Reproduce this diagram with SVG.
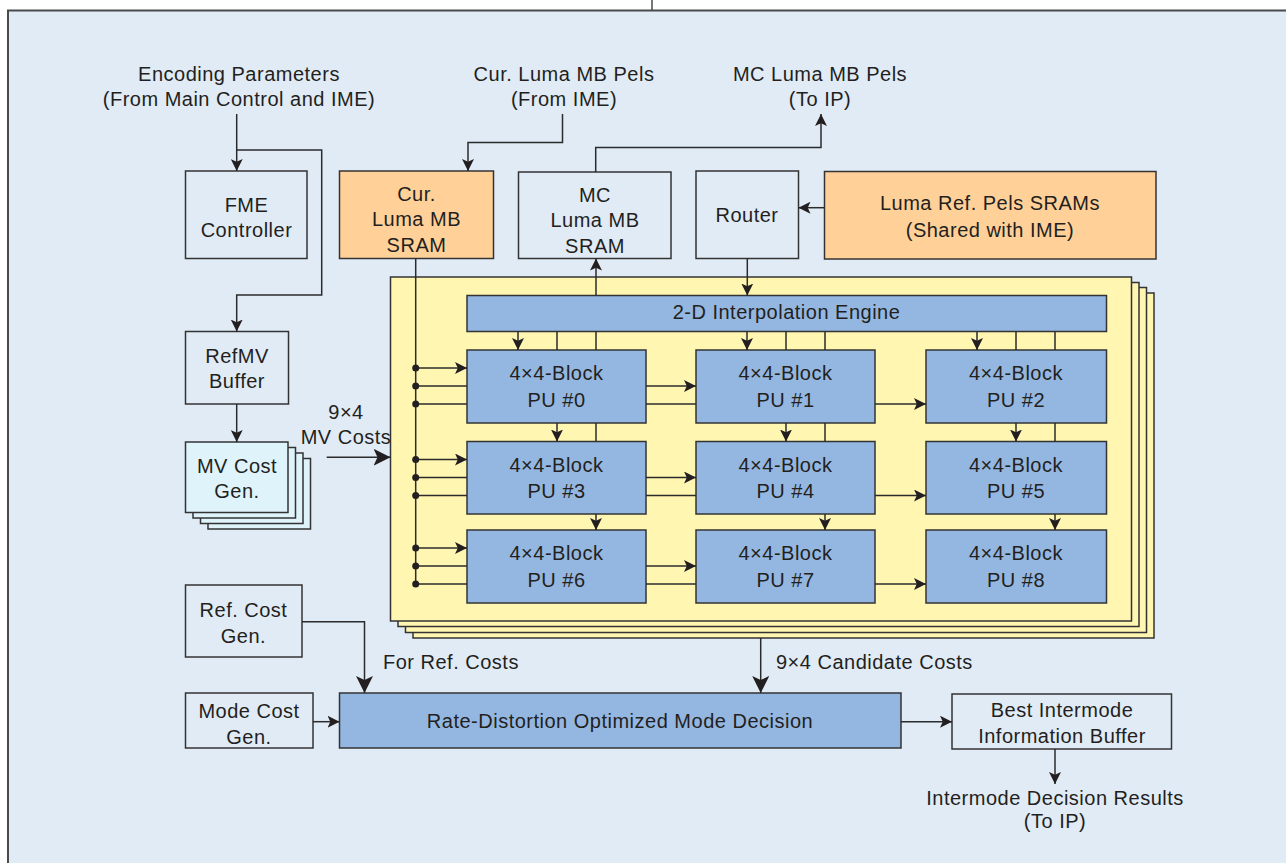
<svg xmlns="http://www.w3.org/2000/svg" width="1286" height="863" viewBox="0 0 1286 863">
<style>
text{font-family:"Liberation Sans",Arial,sans-serif;font-size:20px;letter-spacing:0.5px;fill:#231f20}
.m{text-anchor:middle}
.box{fill:#e1ebf6;stroke:#333;stroke-width:1.5}
.org{fill:#ffd199;stroke:#333;stroke-width:1.5}
.blu{fill:#94b7e1;stroke:#333;stroke-width:1.5}
.yel{fill:#fff6b2;stroke:#333;stroke-width:1.5}
.cyn{fill:#dff3fb;stroke:#333;stroke-width:1.5}
.ln{fill:none;stroke:#2b2b2b;stroke-width:1.5}
.a{marker-end:url(#sa)}
.b{marker-end:url(#ba)}
.dot{fill:#231f20}
</style>
<defs>
<marker id="sa" markerUnits="userSpaceOnUse" markerWidth="13" markerHeight="12" refX="12" refY="6" orient="auto" viewBox="0 0 13 12">
<path d="M0,0 L12,6 L0,12 L2.8,6 Z" fill="#231f20"/>
</marker>
<marker id="ba" markerUnits="userSpaceOnUse" markerWidth="18" markerHeight="17" refX="17" refY="8.5" orient="auto" viewBox="0 0 18 17">
<path d="M0,0 L17,8.5 L0,17 L4,8.5 Z" fill="#231f20"/>
</marker>
</defs>
<rect x="0" y="0" width="1286" height="863" fill="#ffffff"/>
<rect x="8" y="10.5" width="1290" height="870" fill="#e1ebf6" stroke="#4a4a4a" stroke-width="2"/>
<line x1="652" y1="0" x2="652" y2="10" stroke="#4a4a4a" stroke-width="1.5"/>

<g id="labels">
<text class="m" x="239" y="81">Encoding Parameters</text>
<text class="m" x="239" y="106">(From Main Control and IME)</text>
<text class="m" x="564" y="81">Cur. Luma MB Pels</text>
<text class="m" x="564" y="106">(From IME)</text>
<text class="m" x="820" y="81">MC Luma MB Pels</text>
<text class="m" x="820" y="106">(To IP)</text>
<text class="m" x="346" y="419">9×4</text>
<text class="m" x="346" y="444">MV Costs</text>
<text x="383" y="669">For Ref. Costs</text>
<text x="776" y="669">9×4 Candidate Costs</text>
<text class="m" x="1055" y="805">Intermode Decision Results</text>
<text class="m" x="1055" y="828">(To IP)</text>
</g>

<g id="fme-controller">
<rect class="box" x="185.5" y="171" width="121.5" height="87.5"/>
<text class="m" x="246.5" y="211.5">FME</text>
<text class="m" x="246.5" y="236.7">Controller</text>
</g>
<g id="cur-luma-sram">
<rect class="org" x="339.5" y="171" width="154" height="87.5"/>
<text class="m" x="416.5" y="200.7">Cur.</text>
<text class="m" x="416.5" y="226">Luma MB</text>
<text class="m" x="416.5" y="251.5">SRAM</text>
</g>
<g id="mc-luma-sram">
<rect class="box" x="518.5" y="172" width="152.5" height="86.5"/>
<text class="m" x="595" y="201.5">MC</text>
<text class="m" x="595" y="227">Luma MB</text>
<text class="m" x="595" y="252.5">SRAM</text>
</g>
<g id="router">
<rect class="box" x="696" y="171" width="102.5" height="87.5"/>
<text class="m" x="747" y="221.7">Router</text>
</g>
<g id="luma-ref-srams">
<rect class="org" x="824.5" y="171.5" width="331.5" height="87.5"/>
<text class="m" x="990" y="210">Luma Ref. Pels SRAMs</text>
<text class="m" x="990" y="236.5">(Shared with IME)</text>
</g>
<g id="refmv-buffer">
<rect class="box" x="185.5" y="331.5" width="103" height="72.5"/>
<text class="m" x="237" y="362.7">RefMV</text>
<text class="m" x="237" y="388">Buffer</text>
</g>
<g id="mv-cost-gen">
<rect class="cyn" x="208" y="458.5" width="102.5" height="70.5"/>
<rect class="cyn" x="200.5" y="453" width="102.5" height="70.5"/>
<rect class="cyn" x="193" y="447.5" width="102.5" height="70.5"/>
<rect class="cyn" x="185.5" y="442" width="102.5" height="70.5"/>
<text class="m" x="237" y="473">MV Cost</text>
<text class="m" x="237" y="497.5">Gen.</text>
</g>
<g id="ref-cost-gen">
<rect class="box" x="185.5" y="585" width="116.5" height="72"/>
<text class="m" x="243.5" y="617">Ref. Cost</text>
<text class="m" x="243.5" y="643">Gen.</text>
</g>
<g id="mode-cost-gen">
<rect class="box" x="185.5" y="693" width="127.5" height="55"/>
<text class="m" x="249" y="718">Mode Cost</text>
<text class="m" x="249" y="744">Gen.</text>
</g>

<g id="pu-array">
<rect class="yel" x="413" y="293" width="741" height="345"/>
<rect class="yel" x="405.5" y="287.5" width="741" height="345"/>
<rect class="yel" x="398" y="282.5" width="741" height="344"/>
<rect class="yel" x="390.5" y="277" width="741" height="344"/>
</g>
<g id="interp-engine">
<rect class="blu" x="467" y="295.5" width="639.5" height="36"/>
<text class="m" x="786.5" y="319">2-D Interpolation Engine</text>
</g>
<g id="pu0"><rect class="blu" x="467" y="350" width="179" height="73"/><text class="m" x="556.5" y="380">4×4-Block</text><text class="m" x="556.5" y="406.5">PU #0</text></g>
<g id="pu1"><rect class="blu" x="696" y="350" width="179" height="73"/><text class="m" x="785.5" y="380">4×4-Block</text><text class="m" x="785.5" y="406.5">PU #1</text></g>
<g id="pu2"><rect class="blu" x="926" y="350" width="180.5" height="73"/><text class="m" x="1016" y="380">4×4-Block</text><text class="m" x="1016" y="406.5">PU #2</text></g>
<g id="pu3"><rect class="blu" x="467" y="441.5" width="179" height="72.5"/><text class="m" x="556.5" y="471.5">4×4-Block</text><text class="m" x="556.5" y="498">PU #3</text></g>
<g id="pu4"><rect class="blu" x="696" y="441.5" width="179" height="72.5"/><text class="m" x="785.5" y="471.5">4×4-Block</text><text class="m" x="785.5" y="498">PU #4</text></g>
<g id="pu5"><rect class="blu" x="926" y="441.5" width="180.5" height="72.5"/><text class="m" x="1016" y="471.5">4×4-Block</text><text class="m" x="1016" y="498">PU #5</text></g>
<g id="pu6"><rect class="blu" x="467" y="530" width="179" height="73"/><text class="m" x="556.5" y="560">4×4-Block</text><text class="m" x="556.5" y="586.5">PU #6</text></g>
<g id="pu7"><rect class="blu" x="696" y="530" width="179" height="73"/><text class="m" x="785.5" y="560">4×4-Block</text><text class="m" x="785.5" y="586.5">PU #7</text></g>
<g id="pu8"><rect class="blu" x="926" y="530" width="180.5" height="73"/><text class="m" x="1016" y="560">4×4-Block</text><text class="m" x="1016" y="586.5">PU #8</text></g>

<g id="rdo">
<rect class="blu" x="339.5" y="693" width="561.5" height="55"/>
<text class="m" x="620" y="727.5">Rate-Distortion Optimized Mode Decision</text>
</g>
<g id="best-intermode-buffer">
<rect class="box" x="952" y="694" width="219.5" height="55"/>
<text class="m" x="1062" y="716.7">Best Intermode</text>
<text class="m" x="1062" y="742.7">Information Buffer</text>
</g>

<g id="connectors">
<path class="ln a" d="M236.7,114 V171"/>
<path class="ln a" d="M236.7,150 H321.7 V295 H236.7 V331.5"/>
<path class="ln a" d="M562.5,114 V142.5 H468 V171"/>
<path class="ln a" d="M595.7,172 V147.5 H821 V114"/>
<path class="ln a" d="M824.5,207.7 H798.5"/>
<path class="ln a" d="M747.3,258.5 V295.5"/>
<path class="ln a" d="M596,295.5 V258.5"/>
<path class="ln a" d="M236.7,404 V442"/>
<path class="ln b" d="M326.7,457.3 H390.5"/>
<path class="ln" d="M415.7,258.5 V584"/>
<path class="ln a" d="M518,331.5 V350"/><path class="ln" d="M557,331.5 V350 M596,331.5 V350"/>
<path class="ln a" d="M747,331.5 V350"/><path class="ln" d="M786,331.5 V350 M825,331.5 V350"/>
<path class="ln a" d="M977,331.5 V350"/><path class="ln" d="M1016,331.5 V350 M1055,331.5 V350"/>
<path class="ln a" d="M557,423 V441.5"/><path class="ln" d="M596,423 V441.5"/>
<path class="ln a" d="M786,423 V441.5"/><path class="ln" d="M825,423 V441.5"/>
<path class="ln a" d="M1016,423 V441.5"/><path class="ln" d="M1055,423 V441.5"/>
<path class="ln a" d="M596,514 V530"/>
<path class="ln a" d="M825,514 V530"/>
<path class="ln a" d="M1055,514 V530"/>
<path class="ln a" d="M415.7,368 H467"/><path class="ln" d="M415.7,386 H467 M415.7,404 H467"/>
<path class="ln a" d="M646,386 H696"/><path class="ln" d="M646,404 H696"/>
<path class="ln a" d="M875,404 H926"/>
<path class="ln a" d="M415.7,459.5 H467"/><path class="ln" d="M415.7,477.5 H467 M415.7,495.5 H467"/>
<path class="ln a" d="M646,477.5 H696"/><path class="ln" d="M646,495.5 H696"/>
<path class="ln a" d="M875,495.5 H926"/>
<path class="ln a" d="M415.7,548 H467"/><path class="ln" d="M415.7,566 H467 M415.7,584 H467"/>
<path class="ln a" d="M646,566 H696"/><path class="ln" d="M646,584 H696"/>
<path class="ln a" d="M875,584 H926"/>
<circle class="dot" cx="415.7" cy="368" r="3.5"/><circle class="dot" cx="415.7" cy="386" r="3.5"/><circle class="dot" cx="415.7" cy="404" r="3.5"/>
<circle class="dot" cx="415.7" cy="459.5" r="3.5"/><circle class="dot" cx="415.7" cy="477.5" r="3.5"/><circle class="dot" cx="415.7" cy="495.5" r="3.5"/>
<circle class="dot" cx="415.7" cy="548" r="3.5"/><circle class="dot" cx="415.7" cy="566" r="3.5"/><circle class="dot" cx="415.7" cy="584" r="3.5"/>
<path class="ln b" d="M302,621.7 H364.5 V693"/>
<path class="ln b" d="M760.7,638 V693"/>
<path class="ln a" d="M313,721.7 H339.5"/>
<path class="ln a" d="M901,721.7 H952"/>
<path class="ln a" d="M1055,749 V784"/>
</g>
</svg>
